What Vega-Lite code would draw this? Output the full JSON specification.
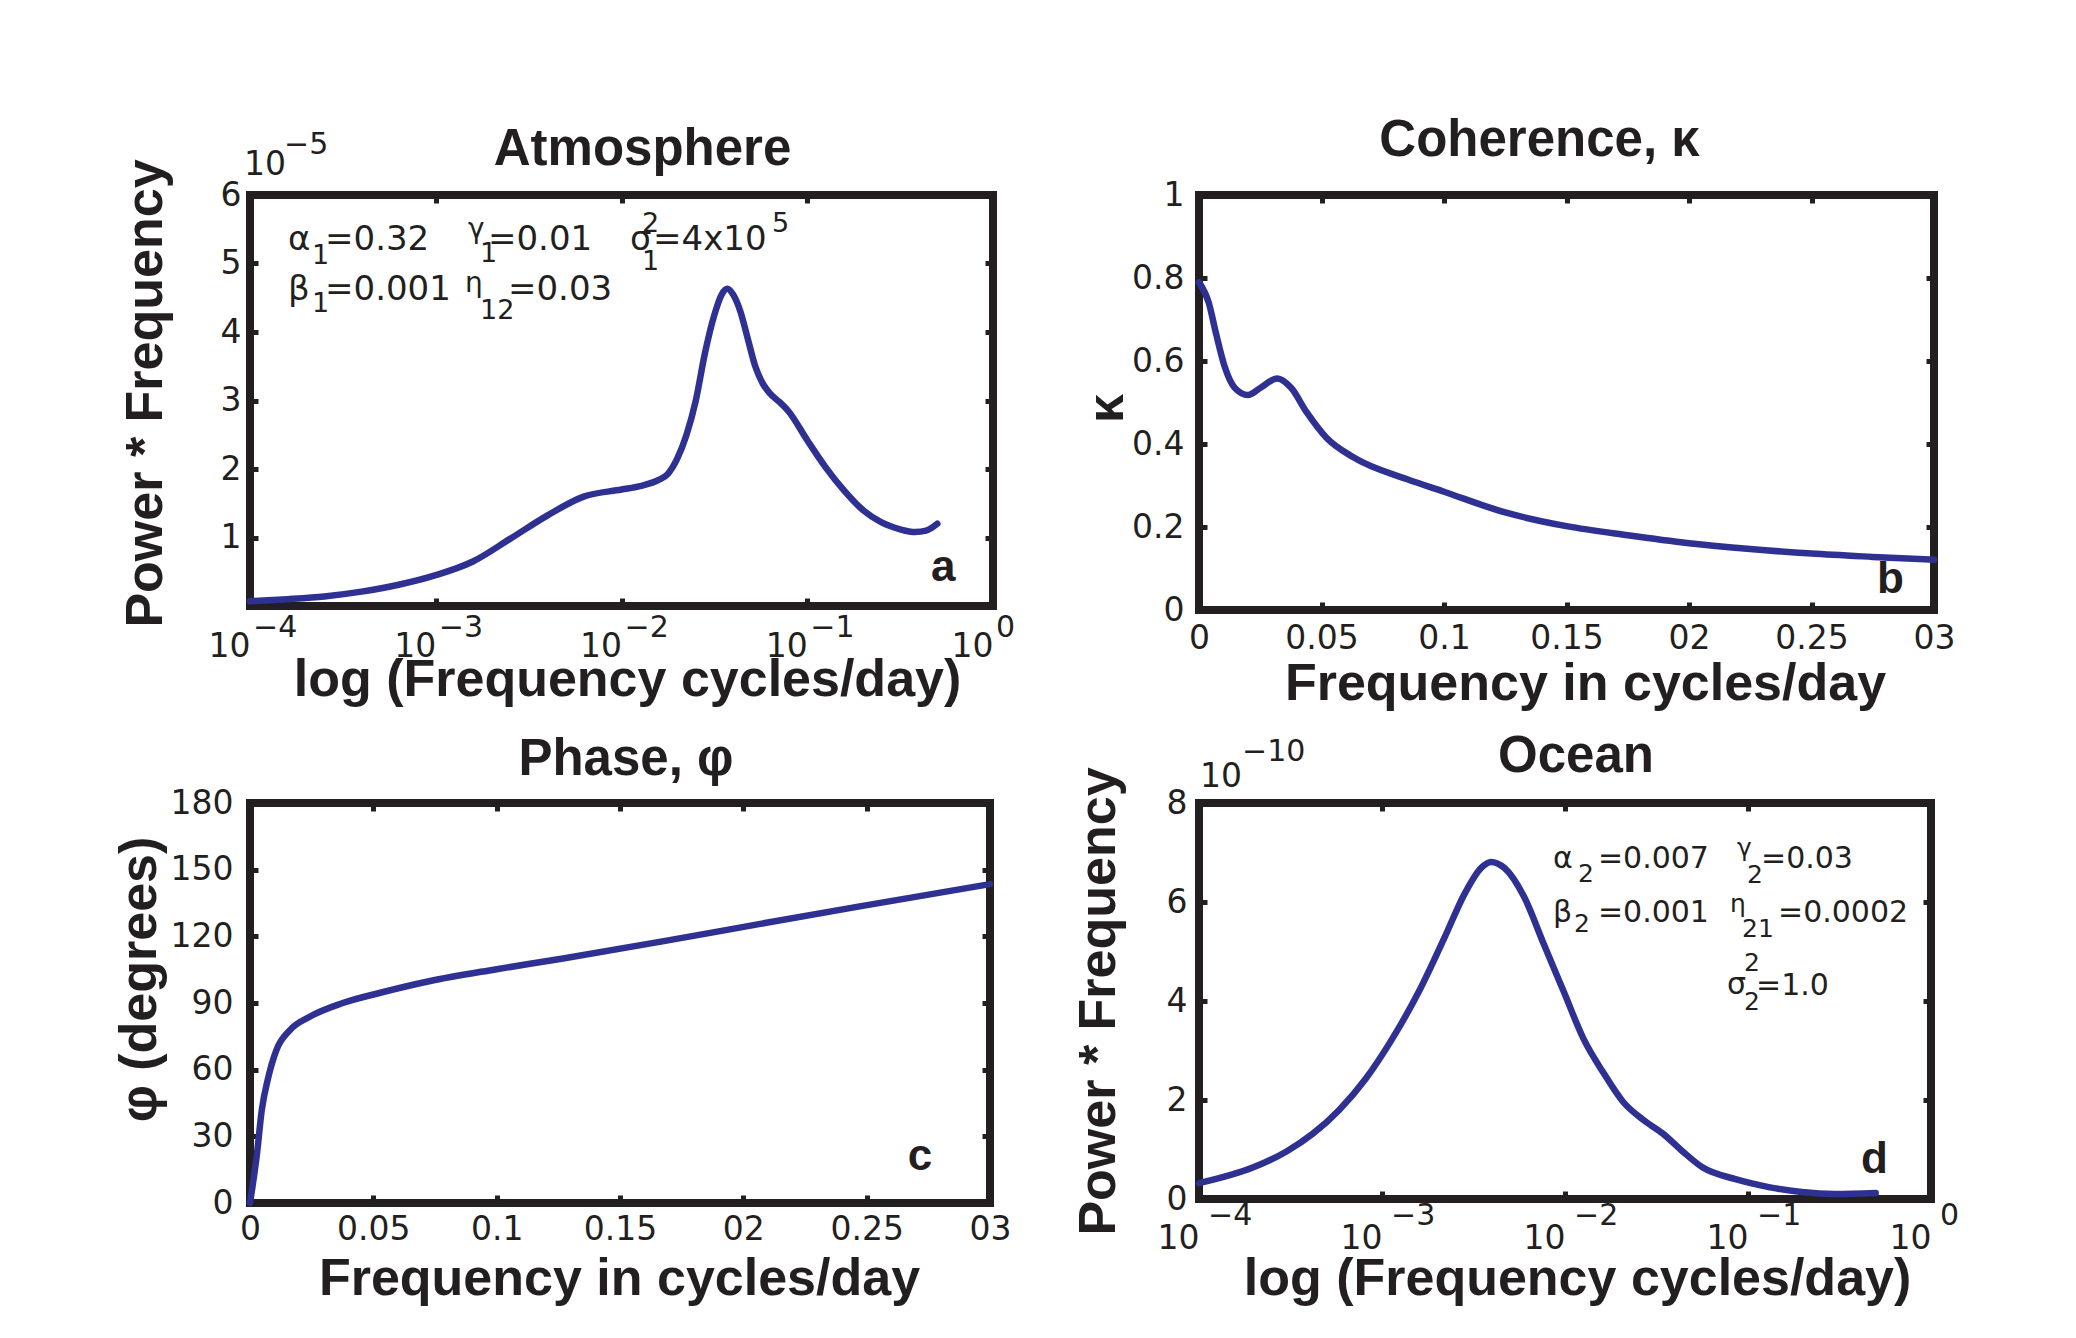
{
  "$schema": "https://vega.github.io/schema/vega-lite/v6.json",
  "background": "white",
  "padding": {"left": 108, "top": 111, "right": 10, "bottom": 10},
  "columns": 2,
  "spacing": {"row": 193, "column": 206},
  "bounds": "flush",
  "config": {
    "view": {"stroke": "#231f20", "strokeWidth": 8},
    "axis": {"domain": false, "grid": false, "ticks": true, "tickSize": -8, "tickWidth": 5, "tickColor": "#231f20",
      "labelFont": "DejaVu Sans", "labelFontSize": 33, "labelColor": "#231f20",
      "titleFont": "Liberation Sans", "titleFontSize": 52, "titleFontWeight": "bold", "titleColor": "#231f20",
      "labelFlush": false, "labelOverlap": false, "labelBound": false},
    "title": {"font": "Liberation Sans", "fontSize": 51, "fontWeight": "bold", "color": "#231f20", "frame": "group", "baseline": "alphabetic", "anchor": "middle"},
    "text": {"font": "DejaVu Sans", "color": "#231f20"}
  },
  "datasets": {
    "atmo": [{"f":0.0001,"p":0.07},{"f":0.0001585,"p":0.10},{"f":0.0002512,"p":0.14},{"f":0.0003981,"p":0.21},{"f":0.000631,"p":0.31},{"f":0.001,"p":0.45},{"f":0.001585,"p":0.65},{"f":0.002512,"p":0.98},{"f":0.003981,"p":1.32},{"f":0.00631,"p":1.60},{"f":0.01,"p":1.70},{"f":0.01259,"p":1.75},{"f":0.01585,"p":1.84},{"f":0.01778,"p":1.93},{"f":0.01995,"p":2.15},{"f":0.02239,"p":2.50},{"f":0.02512,"p":3.00},{"f":0.02818,"p":3.70},{"f":0.03162,"p":4.25},{"f":0.03467,"p":4.55},{"f":0.03715,"p":4.63},{"f":0.03981,"p":4.55},{"f":0.04365,"p":4.30},{"f":0.04786,"p":3.90},{"f":0.05248,"p":3.50},{"f":0.05754,"p":3.25},{"f":0.0631,"p":3.10},{"f":0.07079,"p":2.98},{"f":0.07943,"p":2.84},{"f":0.1,"p":2.42},{"f":0.1259,"p":2.02},{"f":0.1585,"p":1.68},{"f":0.1995,"p":1.40},{"f":0.2512,"p":1.22},{"f":0.3162,"p":1.12},{"f":0.3802,"p":1.08},{"f":0.4365,"p":1.10},{"f":0.5012,"p":1.20}],
    "coh": [{"f":0.0,"k":0.79},{"f":0.004,"k":0.74},{"f":0.007,"k":0.665},{"f":0.0105,"k":0.586},{"f":0.0145,"k":0.536},{"f":0.02,"k":0.518},{"f":0.025,"k":0.535},{"f":0.032,"k":0.558},{"f":0.0375,"k":0.536},{"f":0.044,"k":0.476},{"f":0.052,"k":0.415},{"f":0.063,"k":0.368},{"f":0.085,"k":0.315},{"f":0.1,"k":0.285},{"f":0.125,"k":0.235},{"f":0.15,"k":0.202},{"f":0.175,"k":0.18},{"f":0.2,"k":0.161},{"f":0.225,"k":0.147},{"f":0.25,"k":0.136},{"f":0.275,"k":0.128},{"f":0.3,"k":0.121}],
    "phase": [{"f":0.0,"d":0},{"f":0.0027,"d":21},{"f":0.0048,"d":42},{"f":0.0073,"d":56},{"f":0.0107,"d":68.8},{"f":0.0161,"d":77.7},{"f":0.0242,"d":83.8},{"f":0.0376,"d":90},{"f":0.0524,"d":94.5},{"f":0.0726,"d":99.8},{"f":0.0994,"d":105.1},{"f":0.1263,"d":109.9},{"f":0.1666,"d":117.6},{"f":0.2069,"d":125.6},{"f":0.2472,"d":133.5},{"f":0.3,"d":143.5}],
    "ocean": [{"f":0.0001,"p":0.32},{"f":0.0001982,"p":0.64},{"f":0.0003006,"p":0.96},{"f":0.0004188,"p":1.32},{"f":0.0005834,"p":1.80},{"f":0.0008147,"p":2.43},{"f":0.001135,"p":3.23},{"f":0.001585,"p":4.18},{"f":0.002208,"p":5.30},{"f":0.002831,"p":6.17},{"f":0.003483,"p":6.69},{"f":0.003945,"p":6.81},{"f":0.004656,"p":6.69},{"f":0.005984,"p":6.10},{"f":0.007674,"p":5.14},{"f":0.009863,"p":4.18},{"f":0.01265,"p":3.23},{"f":0.01622,"p":2.55},{"f":0.0208,"p":1.96},{"f":0.02673,"p":1.60},{"f":0.03428,"p":1.32},{"f":0.04395,"p":0.96},{"f":0.05636,"p":0.64},{"f":0.08551,"p":0.40},{"f":0.1297,"p":0.24},{"f":0.1963,"p":0.14},{"f":0.2979,"p":0.10},{"f":0.4989,"p":0.12}],
    "decades": [{"f":0.0001,"e":"−4"},{"f":0.001,"e":"−3"},{"f":0.01,"e":"−2"},{"f":0.1,"e":"−1"},{"f":1,"e":"0"}],
    "annA": [
      {"f":0.0001603,"v":5.197,"t":"α","k":"m"},
      {"f":0.0002535,"v":5.197,"t":"=0.32","k":"m"},
      {"f":0.001911,"v":5.197,"t":"=0.01","k":"m"},
      {"f":0.01111,"v":5.197,"t":"σ","k":"m"},
      {"f":0.01478,"v":5.197,"t":"=4x10","k":"m"},
      {"f":0.0001603,"v":4.467,"t":"β","k":"m"},
      {"f":0.0002535,"v":4.467,"t":"=0.001","k":"m"},
      {"f":0.002449,"v":4.467,"t":"=0.03","k":"m"},
      {"f":0.0002157,"v":4.993,"t":"1","k":"s"},
      {"f":0.00173,"v":5.022,"t":"1","k":"s"},
      {"f":0.0129,"v":4.905,"t":"1","k":"s"},
      {"f":0.0002157,"v":4.292,"t":"1","k":"s"},
      {"f":0.00173,"v":4.19,"t":"12","k":"s"},
      {"f":0.0129,"v":5.46,"t":"2","k":"s"},
      {"f":0.0646,"v":5.46,"t":"5","k":"s"},
      {"f":0.001492,"v":5.372,"t":"γ","k":"g"},
      {"f":0.001437,"v":4.584,"t":"η","k":"g"}
    ],
    "annD": [
      {"f":0.00859,"v":6.687,"t":"α","k":"m"},
      {"f":0.01513,"v":6.687,"t":"=0.007","k":"m"},
      {"f":0.1178,"v":6.687,"t":"=0.03","k":"m"},
      {"f":0.00859,"v":5.596,"t":"β","k":"m"},
      {"f":0.01513,"v":5.596,"t":"=0.001","k":"m"},
      {"f":0.1459,"v":5.596,"t":"=0.0002","k":"m"},
      {"f":0.0767,"v":4.14,"t":"σ","k":"m"},
      {"f":0.1107,"v":4.12,"t":"=1.0","k":"m"},
      {"f":0.01178,"v":6.4,"t":"2","k":"s"},
      {"f":0.09874,"v":6.38,"t":"2","k":"s"},
      {"f":0.01119,"v":5.39,"t":"2","k":"s"},
      {"f":0.0927,"v":5.29,"t":"21","k":"s"},
      {"f":0.0951,"v":4.61,"t":"2","k":"s"},
      {"f":0.0951,"v":3.82,"t":"2","k":"s"},
      {"f":0.0871,"v":6.93,"t":"γ","k":"g"},
      {"f":0.0798,"v":5.8,"t":"η","k":"g"}
    ]
  },
  "concat": [
    {
      "width": 743, "height": 411,
      "title": {"text": "Atmosphere", "offset": -46, "dx": 21},
      "resolve": {"axis": {"x": "independent", "y": "independent"}},
      "layer": [
        {"data": {"name": "atmo"},
         "mark": {"type": "line", "interpolate": "monotone", "color": "#2e3192", "strokeWidth": 6.5, "strokeCap": "round"},
         "encoding": {
           "x": {"field": "f", "type": "quantitative", "scale": {"type": "log", "domain": [0.0001, 1], "nice": false},
             "axis": {"values": [0.0001, 0.001, 0.01, 0.1, 1], "labelExpr": "'10'", "labelAlign": "right", "labelDx": 0, "labelBaseline": "alphabetic", "labelPadding": 58, "title": "log (Frequency cycles/day)", "titleX": 377, "titleY": 89, "titleBaseline": "alphabetic"}},
           "y": {"field": "p", "type": "quantitative", "scale": {"domain": [0, 6], "nice": false, "zero": false},
             "axis": {"values": [1, 2, 3, 4, 5, 6], "labelExpr": "format(datum.value, '~g')", "labelPadding": 17, "title": "Power * Frequency", "titleX": -89, "titleY": 198, "titleAngle": -90, "titleBaseline": "alphabetic"}}
         }},
        {"data": {"name": "atmo"},
         "mark": {"type": "point", "opacity": 0},
         "encoding": {
           "x": {"field": "f", "type": "quantitative", "scale": {"type": "log", "domain": [0.0001, 1], "nice": false},
             "axis": {"orient": "top", "values": [0.001, 0.01, 0.1], "labels": false, "title": null}},
           "y": {"field": "p", "type": "quantitative", "scale": {"domain": [0, 6], "nice": false, "zero": false},
             "axis": {"orient": "right", "values": [1, 2, 3, 4, 5], "labels": false, "title": null}}
         }},
        {"data": {"name": "decades"},
         "mark": {"type": "text", "align": "left", "baseline": "alphabetic", "fontSize": 30, "dx": 3, "dy": 31},
         "encoding": {
           "x": {"field": "f", "type": "quantitative", "scale": {"type": "log", "domain": [0.0001, 1], "nice": false}, "axis": null},
           "y": {"datum": 0, "type": "quantitative", "axis": null},
           "text": {"field": "e"}
         }},
        {"data": {"values": [{"t": "10"}]},
         "mark": {"type": "text", "align": "left", "baseline": "alphabetic", "fontSize": 33, "dx": -6, "dy": -20},
         "encoding": {
           "x": {"datum": 0.0001, "type": "quantitative", "scale": {"type": "log", "domain": [0.0001, 1], "nice": false}, "axis": null},
           "y": {"datum": 6, "type": "quantitative", "axis": null},
           "text": {"field": "t"}
         }},
        {"data": {"values": [{"t": "−5"}]},
         "mark": {"type": "text", "align": "left", "baseline": "alphabetic", "fontSize": 30, "dx": 34, "dy": -41},
         "encoding": {
           "x": {"datum": 0.0001, "type": "quantitative", "scale": {"type": "log", "domain": [0.0001, 1], "nice": false}, "axis": null},
           "y": {"datum": 6, "type": "quantitative", "axis": null},
           "text": {"field": "t"}
         }},
        {"data": {"name": "annA"}, "transform": [{"filter": "datum.k == 'm'"}],
         "mark": {"type": "text", "align": "left", "baseline": "alphabetic", "fontSize": 34},
         "encoding": {
           "x": {"field": "f", "type": "quantitative", "scale": {"type": "log", "domain": [0.0001, 1], "nice": false}, "axis": null},
           "y": {"field": "v", "type": "quantitative", "axis": null},
           "text": {"field": "t"}
         }},
        {"data": {"name": "annA"}, "transform": [{"filter": "datum.k == 's'"}],
         "mark": {"type": "text", "align": "left", "baseline": "alphabetic", "fontSize": 27},
         "encoding": {
           "x": {"field": "f", "type": "quantitative", "scale": {"type": "log", "domain": [0.0001, 1], "nice": false}, "axis": null},
           "y": {"field": "v", "type": "quantitative", "axis": null},
           "text": {"field": "t"}
         }},
        {"data": {"name": "annA"}, "transform": [{"filter": "datum.k == 'g'"}],
         "mark": {"type": "text", "align": "left", "baseline": "alphabetic", "fontSize": 28},
         "encoding": {
           "x": {"field": "f", "type": "quantitative", "scale": {"type": "log", "domain": [0.0001, 1], "nice": false}, "axis": null},
           "y": {"field": "v", "type": "quantitative", "axis": null},
           "text": {"field": "t"}
         }},
        {"data": {"values": [{"f": 0.4634, "v": 0.365, "t": "a"}]},
         "mark": {"type": "text", "align": "left", "baseline": "alphabetic", "font": "Liberation Sans", "fontWeight": "bold", "fontSize": 44},
         "encoding": {
           "x": {"field": "f", "type": "quantitative", "scale": {"type": "log", "domain": [0.0001, 1], "nice": false}, "axis": null},
           "y": {"field": "v", "type": "quantitative", "axis": null},
           "text": {"field": "t"}
         }}
      ]
    },
    {
      "width": 735, "height": 415,
      "title": {"text": "Coherence, κ", "offset": 12, "dx": -27},
      "resolve": {"axis": {"x": "independent", "y": "independent"}},
      "layer": [
        {"data": {"name": "coh"},
         "mark": {"type": "line", "interpolate": "monotone", "color": "#2e3192", "strokeWidth": 6.5, "strokeCap": "round"},
         "encoding": {
           "x": {"field": "f", "type": "quantitative", "scale": {"domain": [0, 0.3], "nice": false},
             "axis": {"values": [0, 0.05, 0.1, 0.15, 0.2, 0.25, 0.3], "labelExpr": "datum.value == 0.2 ? '02' : datum.value == 0.3 ? '03' : format(datum.value, '~g')", "labelBaseline": "alphabetic", "labelPadding": 46, "title": "Frequency in cycles/day", "titleX": 386, "titleY": 89, "titleBaseline": "alphabetic"}},
           "y": {"field": "k", "type": "quantitative", "scale": {"domain": [0, 1], "nice": false},
             "axis": {"values": [0, 0.2, 0.4, 0.6, 0.8, 1], "labelExpr": "format(datum.value, '~g')", "labelPadding": 23, "title": "κ", "titleX": -77, "titleY": 213, "titleAngle": -90, "titleBaseline": "alphabetic"}}
         }},
        {"data": {"name": "coh"},
         "mark": {"type": "point", "opacity": 0},
         "encoding": {
           "x": {"field": "f", "type": "quantitative", "scale": {"domain": [0, 0.3], "nice": false},
             "axis": {"orient": "top", "values": [0.05, 0.1, 0.15, 0.2, 0.25], "labels": false, "title": null}},
           "y": {"field": "k", "type": "quantitative", "scale": {"domain": [0, 1], "nice": false},
             "axis": {"orient": "right", "values": [0.2, 0.4, 0.6, 0.8], "labels": false, "title": null}}
         }},
        {"data": {"values": [{"f": 0.2767, "v": 0.042, "t": "b"}]},
         "mark": {"type": "text", "align": "left", "baseline": "alphabetic", "font": "Liberation Sans", "fontWeight": "bold", "fontSize": 44},
         "encoding": {
           "x": {"field": "f", "type": "quantitative", "scale": {"domain": [0, 0.3], "nice": false}, "axis": null},
           "y": {"field": "v", "type": "quantitative", "axis": null},
           "text": {"field": "t"}
         }}
      ]
    },
    {
      "width": 740, "height": 400,
      "title": {"text": "Phase, φ", "offset": 1, "dx": 6},
      "resolve": {"axis": {"x": "independent", "y": "independent"}},
      "layer": [
        {"data": {"name": "phase"},
         "mark": {"type": "line", "interpolate": "monotone", "color": "#2e3192", "strokeWidth": 6.5, "strokeCap": "round"},
         "encoding": {
           "x": {"field": "f", "type": "quantitative", "scale": {"domain": [0, 0.3], "nice": false},
             "axis": {"values": [0, 0.05, 0.1, 0.15, 0.2, 0.25, 0.3], "labelExpr": "datum.value == 0.2 ? '02' : datum.value == 0.3 ? '03' : format(datum.value, '~g')", "labelBaseline": "alphabetic", "labelPadding": 44, "title": "Frequency in cycles/day", "titleX": 369, "titleY": 91, "titleBaseline": "alphabetic"}},
           "y": {"field": "d", "type": "quantitative", "scale": {"domain": [0, 180], "nice": false},
             "axis": {"values": [0, 30, 60, 90, 120, 150, 180], "labelPadding": 25, "title": "φ (degrees)", "titleX": -95, "titleY": 176, "titleAngle": -90, "titleBaseline": "alphabetic"}}
         }},
        {"data": {"name": "phase"},
         "mark": {"type": "point", "opacity": 0},
         "encoding": {
           "x": {"field": "f", "type": "quantitative", "scale": {"domain": [0, 0.3], "nice": false},
             "axis": {"orient": "top", "values": [0.05, 0.1, 0.15, 0.2, 0.25], "labels": false, "title": null}},
           "y": {"field": "d", "type": "quantitative", "scale": {"domain": [0, 180], "nice": false},
             "axis": {"orient": "right", "values": [30, 60, 90, 120, 150], "labels": false, "title": null}}
         }},
        {"data": {"values": [{"f": 0.2667, "v": 14.7, "t": "c"}]},
         "mark": {"type": "text", "align": "left", "baseline": "alphabetic", "font": "Liberation Sans", "fontWeight": "bold", "fontSize": 44},
         "encoding": {
           "x": {"field": "f", "type": "quantitative", "scale": {"domain": [0, 0.3], "nice": false}, "axis": null},
           "y": {"field": "v", "type": "quantitative", "axis": null},
           "text": {"field": "t"}
         }}
      ]
    },
    {
      "width": 732, "height": 396,
      "title": {"text": "Ocean", "offset": -46, "dx": 11},
      "resolve": {"axis": {"x": "independent", "y": "independent"}},
      "layer": [
        {"data": {"name": "ocean"},
         "mark": {"type": "line", "interpolate": "monotone", "color": "#2e3192", "strokeWidth": 6.5, "strokeCap": "round"},
         "encoding": {
           "x": {"field": "f", "type": "quantitative", "scale": {"type": "log", "domain": [0.0001, 1], "nice": false},
             "axis": {"values": [0.0001, 0.001, 0.01, 0.1, 1], "labelExpr": "'10'", "labelAlign": "right", "labelDx": 6, "labelBaseline": "alphabetic", "labelPadding": 57, "title": "log (Frequency cycles/day)", "titleX": 378, "titleY": 95, "titleBaseline": "alphabetic"}},
           "y": {"field": "p", "type": "quantitative", "scale": {"domain": [0, 8], "nice": false, "zero": false},
             "axis": {"values": [0, 2, 4, 6, 8], "labelPadding": 20, "title": "Power * Frequency", "titleX": -85, "titleAngle": -90, "titleBaseline": "alphabetic"}}
         }},
        {"data": {"name": "ocean"},
         "mark": {"type": "point", "opacity": 0},
         "encoding": {
           "x": {"field": "f", "type": "quantitative", "scale": {"type": "log", "domain": [0.0001, 1], "nice": false},
             "axis": {"orient": "top", "values": [0.001, 0.01, 0.1], "labels": false, "title": null}},
           "y": {"field": "p", "type": "quantitative", "scale": {"domain": [0, 8], "nice": false, "zero": false},
             "axis": {"orient": "right", "values": [2, 4, 6], "labels": false, "title": null}}
         }},
        {"data": {"name": "decades"},
         "mark": {"type": "text", "align": "left", "baseline": "alphabetic", "fontSize": 30, "dx": 9, "dy": 26},
         "encoding": {
           "x": {"field": "f", "type": "quantitative", "scale": {"type": "log", "domain": [0.0001, 1], "nice": false}, "axis": null},
           "y": {"datum": 0, "type": "quantitative", "axis": null},
           "text": {"field": "e"}
         }},
        {"data": {"values": [{"t": "10"}]},
         "mark": {"type": "text", "align": "left", "baseline": "alphabetic", "fontSize": 33, "dx": 1, "dy": -16},
         "encoding": {
           "x": {"datum": 0.0001, "type": "quantitative", "scale": {"type": "log", "domain": [0.0001, 1], "nice": false}, "axis": null},
           "y": {"datum": 8, "type": "quantitative", "axis": null},
           "text": {"field": "t"}
         }},
        {"data": {"values": [{"t": "−10"}]},
         "mark": {"type": "text", "align": "left", "baseline": "alphabetic", "fontSize": 30, "dx": 43, "dy": -42},
         "encoding": {
           "x": {"datum": 0.0001, "type": "quantitative", "scale": {"type": "log", "domain": [0.0001, 1], "nice": false}, "axis": null},
           "y": {"datum": 8, "type": "quantitative", "axis": null},
           "text": {"field": "t"}
         }},
        {"data": {"name": "annD"}, "transform": [{"filter": "datum.k == 'm'"}],
         "mark": {"type": "text", "align": "left", "baseline": "alphabetic", "fontSize": 30},
         "encoding": {
           "x": {"field": "f", "type": "quantitative", "scale": {"type": "log", "domain": [0.0001, 1], "nice": false}, "axis": null},
           "y": {"field": "v", "type": "quantitative", "axis": null},
           "text": {"field": "t"}
         }},
        {"data": {"name": "annD"}, "transform": [{"filter": "datum.k == 's'"}],
         "mark": {"type": "text", "align": "left", "baseline": "alphabetic", "fontSize": 25},
         "encoding": {
           "x": {"field": "f", "type": "quantitative", "scale": {"type": "log", "domain": [0.0001, 1], "nice": false}, "axis": null},
           "y": {"field": "v", "type": "quantitative", "axis": null},
           "text": {"field": "t"}
         }},
        {"data": {"name": "annD"}, "transform": [{"filter": "datum.k == 'g'"}],
         "mark": {"type": "text", "align": "left", "baseline": "alphabetic", "fontSize": 25},
         "encoding": {
           "x": {"field": "f", "type": "quantitative", "scale": {"type": "log", "domain": [0.0001, 1], "nice": false}, "axis": null},
           "y": {"field": "v", "type": "quantitative", "axis": null},
           "text": {"field": "t"}
         }},
        {"data": {"values": [{"f": 0.414, "v": 0.533, "t": "d"}]},
         "mark": {"type": "text", "align": "left", "baseline": "alphabetic", "font": "Liberation Sans", "fontWeight": "bold", "fontSize": 44},
         "encoding": {
           "x": {"field": "f", "type": "quantitative", "scale": {"type": "log", "domain": [0.0001, 1], "nice": false}, "axis": null},
           "y": {"field": "v", "type": "quantitative", "axis": null},
           "text": {"field": "t"}
         }}
      ]
    }
  ]
}
